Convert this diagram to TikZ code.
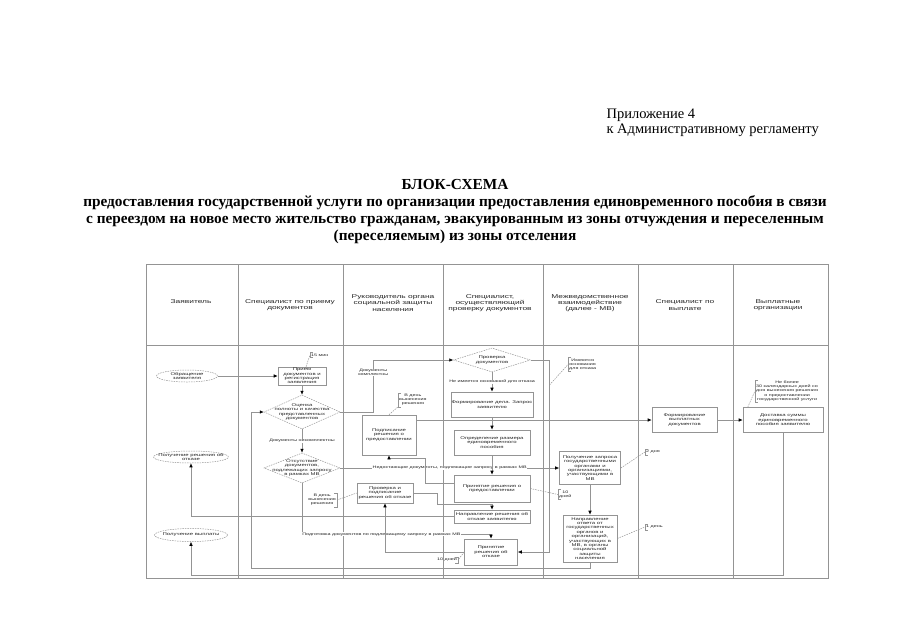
\documentclass[tikz,border=0pt]{standalone}
\usepackage{fontspec}
\setmainfont{Liberation Serif}
\newfontfamily\chartfont[FakeStretch=1.5]{Liberation Sans}
\usepackage{tikz}
\usetikzlibrary{arrows.meta,shapes.geometric,calc}
\definecolor{linegray}{gray}{0.58}
\definecolor{inkgray}{gray}{0.15}

\begin{document}
\begin{tikzpicture}[
  x=1pt, y=-1pt,
  headtext/.style={align=center, inner sep=0pt, text=inkgray, font=\chartfont\fontsize{5.6}{6.3}\selectfont},
  block/.style={rectangle, draw=linegray, line width=0.6pt, fill=white, align=center, inner sep=0.5pt, text=inkgray, font=\chartfont\fontsize{4}{4.4}\selectfont},
  decision/.style={diamond, draw=linegray, line width=0.5pt, dash pattern=on 1.5pt off 1pt, fill=white, inner sep=0pt},
  terminal/.style={ellipse, draw=linegray, line width=0.5pt, dash pattern=on 1.5pt off 1pt, fill=white, inner sep=0pt},
  shapetext/.style={align=center, inner sep=0pt, text=inkgray, font=\chartfont\fontsize{4}{4.4}\selectfont},
  note/.style={align=center, inner sep=1pt, text=inkgray, font=\chartfont\fontsize{3.6}{4.1}\selectfont},
  linelabel/.style={fill=white, inner sep=0.5pt, align=center, text=inkgray, font=\chartfont\fontsize{3.6}{4.1}\selectfont},
  arrow/.style={draw=linegray, line width=0.6pt, -{Latex[length=4pt, width=3.6pt, color=black]}},
  link/.style={draw=linegray, line width=0.6pt},
  leader/.style={draw=linegray, line width=0.5pt, dash pattern=on 1.5pt off 1pt},
  frame/.style={draw=linegray, line width=0.7pt}
]
\fill[white] (0,0) rectangle (905,640);
\useasboundingbox (0,0) rectangle (905,640);

\node[font=\fontsize{14.5}{15.5}\selectfont, align=left, anchor=west] (appx) at (603,123) {Приложение 4\\к Административному регламенту};
\node[font=\bfseries\fontsize{15.3}{17}\selectfont, align=center] (title) at (455,212) {БЛОК-СХЕМА\\предоставления государственной услуги по организации предоставления единовременного пособия в связи\\с переездом на новое место жительство гражданам, эвакуированным из зоны отчуждения и переселенным\\(переселяемым) из зоны отселения};

\draw[frame] (146,264) rectangle (828,578);
\draw[frame] (146,345) -- (828,345);
\foreach \x in {238,343,443,543,638,733}
  \draw[frame] (\x,264) -- (\x,578);

\node[headtext] (hApplicant) at (191,302) {Заявитель};
\node[headtext] (hReception) at (290,305) {Специалист по приему\\документов};
\node[headtext] (hHead) at (393,303) {Руководитель органа\\социальной защиты\\населения};
\node[headtext] (hVerifier) at (490,303) {Специалист,\\осуществляющий\\проверку документов};
\node[headtext] (hMV) at (590,303) {Межведомственное\\взаимодействие\\(далее - МВ)};
\node[headtext] (hPayment) at (685,305) {Специалист по\\выплате};
\node[headtext] (hPayers) at (778,305) {Выплатные\\организации};

\node[terminal, minimum width=61pt, minimum height=12pt, label={[shapetext]center:{Обращение\\заявителя}}] (eApply) at (187,376) {};
\node[terminal, minimum width=75pt, minimum height=12pt, label={[shapetext]center:{Получение решения об\\отказе}}] (eRefuse) at (191,457) {};
\node[terminal, minimum width=73pt, minimum height=13pt, label={[shapetext]center:{Получение выплаты}}] (ePay) at (191,535) {};

\node[block, minimum width=48pt, minimum height=18pt] (bReceive) at (302,376) {Прием\\документов и\\регистрация\\заявления};
\node[decision, minimum width=76pt, minimum height=34pt, label={[shapetext]center:{Оценка\\полноты и качества\\представленных\\документов}}] (dCheck) at (302,412) {};
\node[decision, minimum width=76pt, minimum height=30pt, label={[shapetext]center:{Отсутствие\\документов,\\подлежащих запросу\\в рамках МВ}}] (dMV) at (302,468) {};

\node[block, minimum width=54pt, minimum height=40pt] (bSignGrant) at (389,435) {Подписание\\решения о\\предоставлении};
\node[block, minimum width=56pt, minimum height=20pt] (bSignRefuse) at (385,493) {Проверка и\\подписание\\решения об отказе};

\node[decision, minimum width=77pt, minimum height=24pt, label={[shapetext]center:{Проверка\\документов}}] (dVerify) at (492,360) {};
\node[block, minimum width=76pt, minimum height=25pt] (bCase) at (492,404.5) {Формирование дела. Запрос\\заявителю};
\node[block, minimum width=76pt, minimum height=25pt] (bAmount) at (492,442.5) {Определение размера\\единовременного\\пособия};
\node[block, minimum width=76pt, minimum height=27pt] (bGrant) at (492,488.5) {Принятие решения о\\предоставлении};
\node[block, minimum width=76pt, minimum height=13pt] (bNotify) at (492,516.5) {Направление решения об\\отказе заявителю};
\node[block, minimum width=53pt, minimum height=26pt] (bRefuse) at (491,552) {Принятие\\решения об\\отказе};

\node[block, minimum width=61pt, minimum height=33pt] (bRequest) at (590,468) {Получение запроса\\государственными\\органами и\\организациями,\\участвующими в\\МВ};
\node[block, minimum width=54pt, minimum height=47pt] (bAnswer) at (590,538.5) {Направление\\ответа от\\государственных\\органов и\\организаций,\\участвующих в\\МВ, в органы\\социальной\\защиты\\населения};

\node[block, minimum width=65pt, minimum height=25pt] (bForm) at (684.5,420) {Формирование\\выплатных\\документов};
\node[block, minimum width=80pt, minimum height=25pt] (bDeliver) at (783,420) {Доставка суммы\\единовременного\\пособия заявителю};

\node[note, anchor=west] (n15) at (310,355) {15 мин};
\node[note, anchor=west] (nGround) at (568,364.5) {Имеются\\основания\\для отказа};
\node[note, anchor=west] (nDaySign) at (398,400) {В день\\вынесения\\решения};
\node[note, anchor=east] (nDayRefuse) at (337,500) {В день\\вынесения\\решения};
\node[note, anchor=west] (n10a) at (558,494.5) {10\\дней};
\node[note, anchor=west] (n2) at (645,452) {2 дня};
\node[note, anchor=west] (n1) at (645,527) {1 день};
\node[note, anchor=east] (n10b) at (458,560) {10 дней};
\node[note, anchor=west] (n30) at (755,391) {Не более\\30 календарных дней со\\дня вынесения решения\\о предоставлении\\государственной услуги};

\foreach \n in {n15,nGround,nDaySign,n10a,n2,n1,n30}
  \draw[link] ([xshift=3pt]\n.north west) -- (\n.north west) -- (\n.south west) -- ([xshift=3pt]\n.south west);
\foreach \n in {nDayRefuse,n10b}
  \draw[link] ([xshift=-3pt]\n.north east) -- (\n.north east) -- (\n.south east) -- ([xshift=-3pt]\n.south east);

\coordinate (groundTap) at (549.5,385);

\draw[arrow] (eApply) -- (bReceive);
\draw[arrow] (bReceive) -- (dCheck);
\draw[arrow] (dCheck.east) -- ++(33,0) |- node[linelabel, pos=0.38]{Документы\\комплектны} (dVerify.west);
\draw[arrow] (dCheck) -- node[linelabel]{Документы некомплектны} (dMV);
\draw[arrow] (dMV) -- node[linelabel]{Недостающие документы, подлежащие запросу в рамках МВ} (bRequest);
\draw[arrow] (dMV.south) -- ++(0,51) -| node[linelabel, pos=0.21]{Подготовка документов по подлежащему запросу в рамках МВ} (bRefuse.north);
\draw[arrow] (dVerify) -- node[linelabel]{Не имеется оснований для отказа} (bCase);
\draw[arrow] (dVerify.east) -- ++(19,0) |- (bRefuse.east);
\draw[arrow] (bCase) -- (bAmount);
\draw[arrow] (bAmount) -- (bGrant);
\draw[arrow] ([yshift=5.5pt]bGrant.west) -| (425,458) -| (bSignGrant.south);
\draw[arrow] (bSignGrant.east |- bForm.west) -- (bForm.west);
\draw[arrow] (bForm) -- (bDeliver);
\draw[arrow] (bDeliver.south) -- ++(0,142) -| (ePay.south);
\draw[arrow] (bRequest) -- (bAnswer);
\draw[arrow] (bAnswer.south) -- ++(0,6) -| ([xshift=-12pt]dCheck.west) -- (dCheck.west);
\draw[arrow] (bRefuse.west) -| (bSignRefuse.south);
\draw[arrow] (bSignRefuse.east) -- ++(24,0) |- ([yshift=5pt]bNotify.north) -- (bNotify.north);
\draw[arrow] (bNotify.west) -| (eRefuse.south);

\draw[leader] ([xshift=4pt]bReceive.north) -- (n15.west);
\draw[leader] (groundTap) -- (nGround.west);
\draw[leader] (bSignGrant.north) -- (nDaySign.south west);
\draw[leader] (nDayRefuse.east) -- (bSignRefuse.west);
\draw[leader] (bGrant.east) -- (n10a.west);
\draw[leader] (bRequest.east) -- (n2.west);
\draw[leader] (bAnswer.east) -- (n1.west);
\draw[leader] (bRefuse.west) -- (n10b.east);
\draw[leader] ([xshift=5pt]bDeliver.north west) -- (n30.west);
\end{tikzpicture}
\end{document}
